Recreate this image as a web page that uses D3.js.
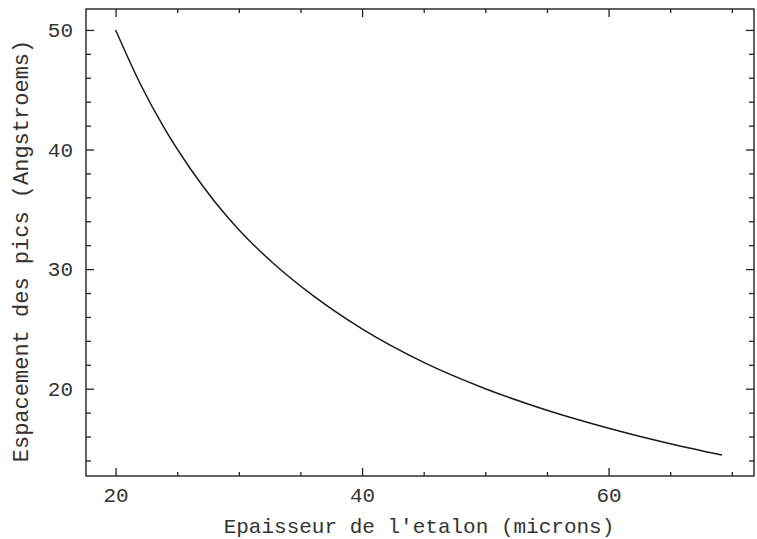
<!DOCTYPE html>
<html>
<head>
<meta charset="utf-8">
<script src="https://cdn.jsdelivr.net/npm/d3@7"></script>
<style>
  body { margin: 0; background: #fff; }
  svg { display: block; }
  .axis path, .axis line { stroke: #222; stroke-width: 1.3; }
  .axis text { font-family: "Liberation Mono", monospace; font-size: 21px; fill: #333; }
  .lbl { font-family: "Liberation Mono", monospace; fill: #333; }
</style>
</head>
<body>
<div id="chart"></div>
<script>
/* data */
var thickness = [20, 22, 24, 26, 28, 30, 33, 36, 40, 45, 50, 55, 60, 65, 69.2]
var spacing = [50, 45.5, 41.7, 38.5, 35.7, 33.3, 30.3, 27.8, 25, 22.2, 20, 18.2, 16.7, 15.4, 14.45]
var xMajor = [20, 40, 60]
var xMinor = [25, 30, 35, 45, 50, 55, 65, 70]
var yMajor = [20, 30, 40, 50]
var yMinor = [14, 16, 18, 22, 24, 26, 28, 32, 34, 36, 38, 42, 44, 46, 48]
var xTitle = "Epaisseur de l'etalon (microns)"
var yTitle = "Espacement des pics (Angstroems)"

var width = 757, height = 539
var margin = { top: 9, right: 3, bottom: 63, left: 86 }
var w = width - margin.left - margin.right
var h = height - margin.top - margin.bottom

var svg = d3.select("#chart").append("svg")
    .attr("width", width)
    .attr("height", height)

var g = svg.append("g")
    .attr("transform", "translate(" + margin.left + "," + margin.top + ")")

var x = d3.scaleLinear().domain([17.6, 71.8]).range([0, w])
var y = d3.scaleLinear().domain([12.7, 51.75]).range([h, 0])

// frame
g.append("rect")
    .attr("width", w).attr("height", h)
    .attr("fill", "none").attr("stroke", "#222").attr("stroke-width", 1.4)

function ticks(axis, vals, size, labels) {
  return axis.tickValues(vals).tickSize(size).tickPadding(12)
    .tickFormat(labels ? d3.format("d") : "")
}

// bottom + top
g.append("g").attr("class", "axis").attr("transform", "translate(0," + h + ")")
    .call(ticks(d3.axisBottom(x), xMajor, -8, true))
    .call(function (s) { s.selectAll("text").attr("dy", "0.75em").attr("y", 10) })
g.append("g").attr("class", "axis").attr("transform", "translate(0," + h + ")")
    .call(ticks(d3.axisBottom(x), xMinor, -4, false))
g.append("g").attr("class", "axis")
    .call(ticks(d3.axisTop(x), xMajor, -8, false))
g.append("g").attr("class", "axis")
    .call(ticks(d3.axisTop(x), xMinor, -4, false))

// left + right
g.append("g").attr("class", "axis")
    .call(ticks(d3.axisLeft(y), yMajor, -8, true))
    .call(function (s) { s.selectAll("text").attr("x", -13) })
g.append("g").attr("class", "axis")
    .call(ticks(d3.axisLeft(y), yMinor, -5, false))
g.append("g").attr("class", "axis").attr("transform", "translate(" + w + ",0)")
    .call(ticks(d3.axisRight(y), yMajor, -8, false))
g.append("g").attr("class", "axis").attr("transform", "translate(" + w + ",0)")
    .call(ticks(d3.axisRight(y), yMinor, -5, false))

g.selectAll(".axis .domain").remove()

// the curve
var line = d3.line()
    .x(function (d, i) { return x(thickness[i]) })
    .y(function (d) { return y(d) })
    .curve(d3.curveMonotoneX)

g.append("path")
    .datum(spacing)
    .attr("fill", "none")
    .attr("stroke", "#1a1a1a")
    .attr("stroke-width", 1.5)
    .attr("d", line)

// titles
svg.append("text").attr("class", "lbl")
    .attr("x", 419).attr("y", 533)
    .attr("text-anchor", "middle")
    .attr("font-size", 21)
    .text(xTitle)

svg.append("text").attr("class", "lbl")
    .attr("transform", "translate(28,251) rotate(-90)")
    .attr("text-anchor", "middle")
    .attr("font-size", 22)
    .text(yTitle)
</script>
</body>
</html>
